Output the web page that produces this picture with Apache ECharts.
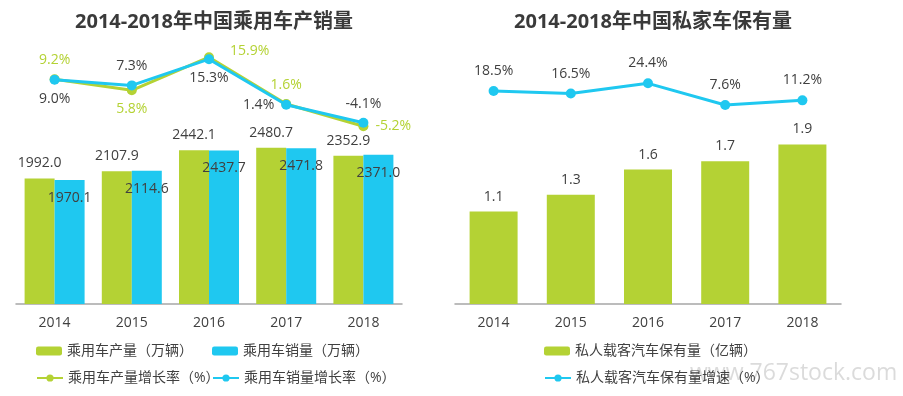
<!DOCTYPE html>
<html>
<head>
<meta charset="utf-8">
<script src="https://cdn.jsdelivr.net/npm/echarts@6/dist/echarts.min.js"></script>
<style>
  html, body { margin: 0; padding: 0; background: #fff; }
  #chart { width: 903px; height: 396px; }
</style>
</head>
<body>
<div id="chart"></div>
<script>
// data
const years = ['2014', '2015', '2016', '2017', '2018'];
const production = [1992.0, 2107.9, 2442.1, 2480.7, 2352.9];
const sales = [1970.1, 2114.6, 2437.7, 2471.8, 2371.0];
const productionGrowth = [9.2, 5.8, 15.9, 1.6, -5.2];
const salesGrowth = [9.0, 7.3, 15.3, 1.4, -4.1];
const privateCars = [1.1, 1.3, 1.6, 1.7, 1.9];
const privateGrowth = [18.5, 16.5, 24.4, 7.6, 11.2];

const GREEN = '#b4d234';
const BLUE = '#1fc8f0';
const TEXT = '#404040';
const FONT = "'Open Sans','Noto Sans CJK SC',sans-serif";

// label placement for each point of the growth lines
const prodLabelPos = [
  { position: 'top', distance: 7 },
  { position: 'bottom', distance: 7 },
  { position: 'right', distance: 16, offset: [0, -6] },
  { position: 'top', distance: 7 },
  { position: 'right', distance: 7 }
];
const salesLabelPos = [
  { position: 'bottom', distance: 7 },
  { position: 'top', distance: 7 },
  { position: 'bottom', distance: 7 },
  { position: 'left', distance: 7 },
  { position: 'top', distance: 7 }
];

const pct = v => v.toFixed(1) + '%';

function lineData(values, pos, color) {
  return values.map((v, i) => ({
    value: v,
    label: Object.assign({ show: true, color: color, fontSize: 14, fontFamily: FONT,
      formatter: p => pct(p.value) }, pos[i])
  }));
}

const chart = echarts.init(document.getElementById('chart'));

const xAxisCommon = {
  type: 'category',
  data: years,
  axisLine: { lineStyle: { color: '#a6a6a6', width: 1.5 } },
  axisTick: { show: false },
  axisLabel: { color: TEXT, fontSize: 14, fontFamily: FONT, margin: 12 }
};
const hiddenY = { type: 'value', show: false, splitLine: { show: false } };

const legendText = { color: TEXT, fontSize: 14, fontFamily: FONT };
function legendAt(name, left, top) {
  return {
    data: [name], left: left, top: top, padding: 0,
    itemWidth: 26, itemHeight: 9, textStyle: legendText, itemGap: 0
  };
}

chart.setOption({
  animation: false,
  title: [
    { text: '2014-2018年中国乘用车产销量', left: 209, top: 7, textAlign: 'center',
      textStyle: { fontSize: 20, fontWeight: 'bold', color: '#3a3a3a', fontFamily: FONT } },
    { text: '2014-2018年中国私家车保有量', left: 648, top: 7, textAlign: 'center',
      textStyle: { fontSize: 20, fontWeight: 'bold', color: '#3a3a3a', fontFamily: FONT } }
  ],
  legend: [
    legendAt('乘用车产量（万辆）', 36, 344),
    legendAt('乘用车销量（万辆）', 212, 344),
    legendAt('乘用车产量增长率（%）', 36, 371),
    legendAt('乘用车销量增长率（%）', 212, 371),
    legendAt('私人载客汽车保有量（亿辆）', 544, 344),
    legendAt('私人载客汽车保有量增速（%）', 544, 371)
  ],
  grid: [
    { left: 16, width: 386, top: 52, bottom: 92 },
    { left: 455, width: 386, top: 52, bottom: 92 }
  ],
  xAxis: [
    Object.assign({ gridIndex: 0 }, xAxisCommon),
    Object.assign({ gridIndex: 1 }, xAxisCommon)
  ],
  yAxis: [
    Object.assign({ gridIndex: 0, min: 0, max: 4000 }, hiddenY),
    Object.assign({ gridIndex: 0, min: -59.5, max: 17.5 }, hiddenY),
    Object.assign({ gridIndex: 1, min: 0, max: 3 }, hiddenY),
    Object.assign({ gridIndex: 1, min: -146.7, max: 48.7 }, hiddenY)
  ],
  graphic: [{
    type: 'text', left: 690, top: 362, z: -1, silent: true,
    style: { text: 'www.767stock.com', fill: 'rgba(190,190,190,0.55)', fontSize: 23, fontFamily: FONT }
  }],
  series: [
    {
      name: '乘用车产量（万辆）', type: 'bar', xAxisIndex: 0, yAxisIndex: 0,
      data: production, barWidth: 30, barGap: '0%',
      itemStyle: { color: GREEN },
      label: { show: true, position: 'top', distance: 8, color: TEXT, fontSize: 14, fontFamily: FONT,
        formatter: p => p.value.toFixed(1) }
    },
    {
      name: '乘用车销量（万辆）', type: 'bar', xAxisIndex: 0, yAxisIndex: 0,
      data: sales, barWidth: 30, barGap: '0%',
      itemStyle: { color: BLUE },
      label: { show: true, position: 'insideTop', distance: 11, color: TEXT, fontSize: 14, fontFamily: FONT,
        formatter: p => p.value.toFixed(1) }
    },
    {
      name: '乘用车产量增长率（%）', type: 'line', xAxisIndex: 0, yAxisIndex: 1,
      data: lineData(productionGrowth, prodLabelPos, GREEN),
      symbol: 'circle', symbolSize: 10, z: 3,
      lineStyle: { color: GREEN, width: 3 }, itemStyle: { color: GREEN }
    },
    {
      name: '乘用车销量增长率（%）', type: 'line', xAxisIndex: 0, yAxisIndex: 1,
      data: lineData(salesGrowth, salesLabelPos, TEXT),
      symbol: 'circle', symbolSize: 10, z: 4,
      lineStyle: { color: BLUE, width: 3 }, itemStyle: { color: BLUE }
    },
    {
      name: '私人载客汽车保有量（亿辆）', type: 'bar', xAxisIndex: 1, yAxisIndex: 2,
      data: privateCars, barWidth: 48,
      itemStyle: { color: GREEN },
      label: { show: true, position: 'top', distance: 8, color: TEXT, fontSize: 14, fontFamily: FONT,
        formatter: p => p.value.toFixed(1) }
    },
    {
      name: '私人载客汽车保有量增速（%）', type: 'line', xAxisIndex: 1, yAxisIndex: 3,
      data: privateGrowth,
      symbol: 'circle', symbolSize: 10, z: 3,
      lineStyle: { color: BLUE, width: 3 }, itemStyle: { color: BLUE },
      label: { show: true, position: 'top', distance: 8, color: TEXT, fontSize: 14, fontFamily: FONT,
        formatter: p => pct(p.value) }
    }
  ]
});
</script>
</body>
</html>
